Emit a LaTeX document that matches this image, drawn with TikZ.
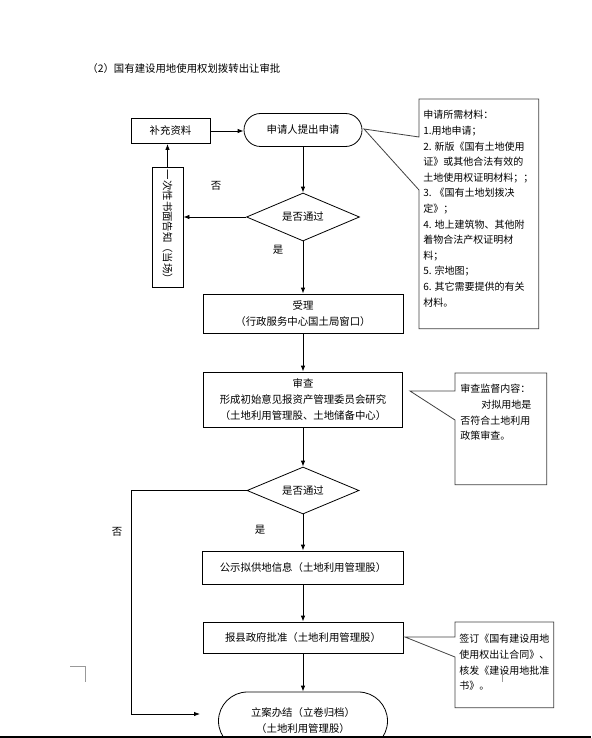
\documentclass[tikz,border=0pt]{standalone}
\usepackage{fontspec}
\setmainfont{Noto Sans CJK SC}
\usetikzlibrary{shapes.geometric,arrows.meta}
\tikzset{
	callout/.style={draw=black!75,line width=0.8pt},
	note/.style={anchor=north west,inner sep=0pt,align=left,font=\fontsize{10}{15.6}\selectfont}
}
\begin{document}
\begin{tikzpicture}[x=1pt,y=-1pt,line width=0.8pt,>={Latex[length=6pt,width=4.5pt]},font=\fontsize{10.4}{16}\selectfont]
			\useasboundingbox (0,0) rectangle (591,738);
			\clip (0,0) rectangle (591,738);
			\node[anchor=west,inner sep=0pt] (T) at (87,69) {（2）国有建设用地使用权划拨转出让审批};
			\begin{scope}[every node/.style={draw,align=center,inner sep=0pt}]
				\node[minimum width=79pt,minimum height=25pt] (S) at (170.5,131) {补充资料};
				\node[minimum width=118pt,minimum height=33pt,rounded corners=16.5pt] (A) at (303,130) {申请人提出申请};
				\node[diamond,aspect=2.35,minimum width=113pt,minimum height=48pt] (D1) at (303,217) {是否通过};
				\node[rotate=-90,minimum width=120pt,minimum height=31pt] (V) at (167.5,227) {一次性书面告知（当场）};
				\node[minimum width=200pt,minimum height=39pt] (B) at (303,313.5) {受理\\（行政服务中心国土局窗口）};
				\node[minimum width=199pt,minimum height=55pt] (C) at (303,399.5) {审查\\形成初始意见报资产管理委员会研究\\（土地利用管理股、土地储备中心）};
				\node[diamond,aspect=2.38,minimum width=112pt,minimum height=47pt] (D2) at (303,490.5) {是否通过};
				\node[minimum width=201pt,minimum height=33pt] (E) at (303,567.5) {公示拟供地信息（土地利用管理股）};
				\node[minimum width=200pt,minimum height=31pt] (F) at (303,637.5) {报县政府批准（土地利用管理股）};
				\node[minimum width=169pt,minimum height=58pt,rounded corners=29pt] (G) at (303,721) {立案办结（立卷归档）\\（土地利用管理股）};
			\end{scope}
			\node (n1) at (216,186) {否};
			\node (y1) at (278,250) {是};
			\node (n2) at (117,532) {否};
			\node (y2) at (260,530) {是};
			\coordinate (K) at (131,714);
			\coordinate (L) at (200,714);
			\draw[->] (S.east) -- (S.east -| A.west);
			\draw[->] (A) -- (D1);
			\draw[->] (D1.west) -- (D1.west -| V.north);
			\draw[->] (V.west) -- (V.west |- S.south);
			\draw[->] (D1) -- (B);
			\draw[->] (B) -- (C);
			\draw[->] (C) -- (D2);
			\draw[->] (D2) -- (E);
			\draw[->] (E) -- (F);
			\draw[->] (F) -- (G);
			\draw[->] (D2.west) -| (K) -- (L);
			\node[inner sep=0pt,minimum width=119pt,minimum height=229pt,anchor=north west] (M) at (419,99) {};
			\node[inner sep=0pt,minimum width=91pt,minimum height=111pt,anchor=north west] (N) at (455,373) {};
			\node[inner sep=0pt,minimum width=98pt,minimum height=85pt,anchor=north west] (P) at (455,622) {};
			\coordinate (Mp) at (364,129);
			\coordinate (Np) at (410,391);
			\coordinate (Pp) at (405,637);
			\draw[callout] (M.north west) -- (M.north east) -- (M.south east) -- (M.south west) -- ([yshift=-91pt]M.north west) -- (Mp) -- ([yshift=-38pt]M.north west) -- cycle;
			\draw[callout] (N.north west) -- (N.north east) -- (N.south east) -- (N.south west) -- ([yshift=-47pt]N.north west) -- (Np) -- ([yshift=-18pt]N.north west) -- cycle;
			\draw[callout] (P.north west) -- (P.north east) -- (P.south east) -- (P.south west) -- ([yshift=-35pt]P.north west) -- (Pp) -- ([yshift=-15pt]P.north west) -- cycle;
			\node[note] (Mt) at (423,110) {申请所需材料：\\1.用地申请；\\2. 新版《国有土地使用\\证》或其他合法有效的\\土地使用权证明材料；；\\3. 《国有土地划拨决\\定》；\\4. 地上建筑物、其他附\\着物合法产权证明材\\料；\\5. 宗地图；\\6. 其它需要提供的有关\\材料。};
			\node[note] (Nt) at (460,384) {审查监督内容：\\\hspace*{21pt}对拟用地是\\否符合土地利用\\政策审查。};
			\node[note] (Pt) at (459,634) {签订《国有建设用地\\使用权出让合同》、\\核发《建设用地批准\\书》。};
			\draw[black!40,line width=0.6pt] (70,666) -- (85,666) -- (85,682);
			\draw[black!40,line width=0.6pt] (502,670) -- (502,682);
			\draw[line width=2pt] (0,736.5) -- (591,736.5);
		\end{tikzpicture}
\end{document}
